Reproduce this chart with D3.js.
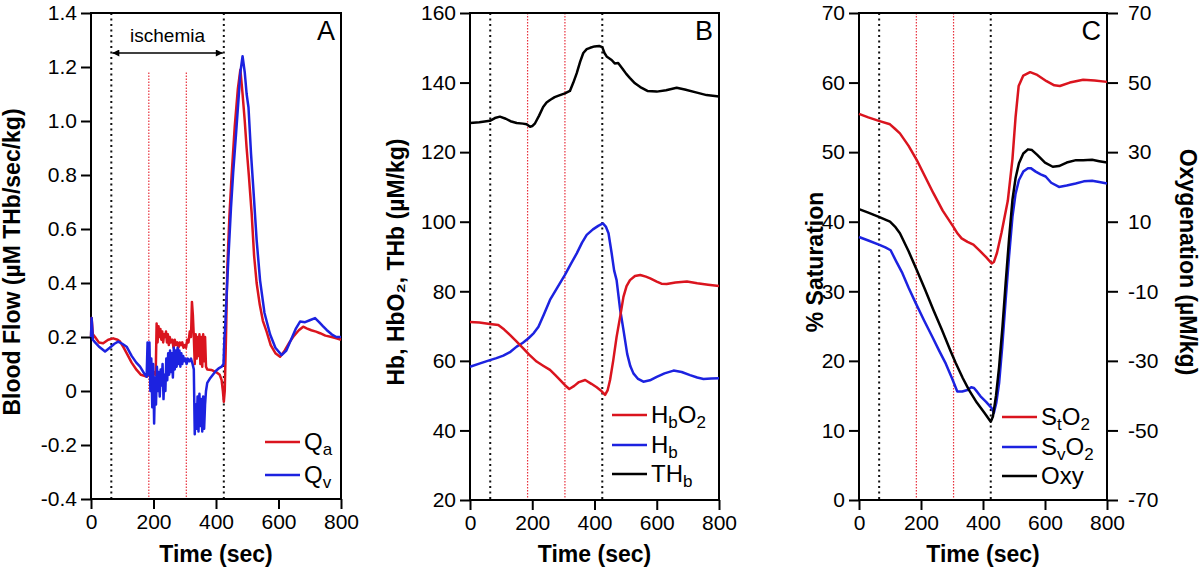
<!DOCTYPE html>
<meta charset="utf-8">
<head>
	<title>Ischemia - blood flow, hemoglobin, saturation</title>
</head>

<style>
body { margin: 0; background: #fff; }
svg { font-family: "Liberation Sans", Arial, sans-serif; background: #fff; }
.frame { fill: none; stroke: #000; stroke-width: 2; }
.axis path { display: none; }
.axis line { stroke: #000; stroke-width: 2; }
.axis text { font-size: 21px; fill: #000; font-family: "Liberation Sans", Arial, sans-serif; }
.title { font-size: 23px; font-weight: bold; }
.series { fill: none; stroke-width: 2.5; stroke-linejoin: round; }
.leg { font-size: 24px; }
</style>

<body>
<svg width="1200" height="571"></svg>

<script src="https://cdnjs.cloudflare.com/ajax/libs/d3/7.8.5/d3.min.js"></script>
<script>

var RED = "#da141e", BLUE = "#1c22e0", BLACK = "#000";

// time ticks and event markers (sec)
var timeTicks = [0, 200, 400, 600, 800];
var blackMarks = [65, 425];
var redMarks = [185, 305];

// panel A : blood flow
var flowTicks = [-0.4, -0.2, 0, 0.2, 0.4, 0.6, 0.8, 1.0, 1.2, 1.4];
var Qa = [[0,0.20],[2,0.27],[6,0.21],[13,0.20],[25,0.18],[39,0.177],[55,0.19],[71,0.195],[85,0.19],[93,0.183],[105,0.16],[114,0.14],[130,0.105],[146,0.078],[160,0.06],[178,0.053],[185,0.06],[192,0.08],[197,0.05],[202,0.07],[207,0.06],
	[210,0.25],[213,0.18],[216,0.24],[219,0.2],[222,0.23],[225,0.19],[228,0.22],[231,0.18],[234,0.21],[237,0.2],[240,0.22],[243,0.18],[246,0.21],[249,0.17],[252,0.2],[256,0.18],[260,0.19],[264,0.16],[268,0.19],[272,0.17],[276,0.18],[280,0.16],[284,0.18],[288,0.17],[292,0.18],[296,0.16],[300,0.17],[304,0.16],[308,0.19],[312,0.18],[316,0.22],[320,0.2],[323,0.33],[326,0.28],[329,0.2],[332,0.1],[335,0.21],[338,0.12],[341,0.2],[344,0.13],[347,0.21],[350,0.1],[353,0.2],[356,0.09],[359,0.21],[362,0.11],[365,0.2],[368,0.09],
	[372,0.08],[385,0.078],[400,0.07],[412,0.06],[418,0.04],[422,0.0],[425,-0.04],[428,0.0],[432,0.2],[436,0.45],[443,0.65],[450,0.8],[460,0.98],[470,1.12],[478,1.19],[485,1.1],[492,1.0],[498,0.9],[505,0.8],[514,0.66],[522,0.5],[530,0.4],[540,0.32],[550,0.26],[562,0.22],[575,0.17],[590,0.14],[605,0.127],[620,0.15],[635,0.18],[650,0.205],[665,0.225],[679,0.238],[690,0.232],[705,0.225],[720,0.22],[733,0.214],[750,0.205],[770,0.2],[785,0.195],[800,0.19]];
var Qv = [[0,0.20],[2,0.27],[6,0.19],[13,0.18],[25,0.165],[45,0.146],[60,0.16],[75,0.175],[87,0.183],[100,0.175],[114,0.164],[130,0.13],[145,0.105],[157,0.09],[170,0.065],[178,0.053],[181,0.18],[184,0.06],[187,0.18],[190,0.0],[193,0.12],[196,-0.06],[199,0.1],[202,-0.12],[205,0.05],[208,-0.05],[211,0.09],[214,0.0],[217,0.07],[220,-0.02],[223,0.08],[226,0.02],[229,0.1],[232,-0.03],[235,0.06],[238,0.0],[241,0.12],[244,0.04],[247,0.14],[250,0.06],[253,0.15],[256,0.07],[259,0.14],[262,0.05],[265,0.16],[268,0.08],[271,0.15],[274,0.09],[277,0.16],[280,0.1],[283,0.15],[286,0.09],[289,0.14],[292,0.1],[295,0.13],[298,0.11],[302,0.12],[306,0.1],[310,0.12],[315,0.11],[320,0.12],[325,0.1],[329,0.08],
	[332,-0.16],[335,-0.05],[338,-0.14],[341,-0.02],[344,-0.15],[347,-0.01],[350,-0.13],[353,-0.03],[356,-0.15],[359,-0.02],[362,-0.14],[365,-0.05],[368,0.0],[372,0.03],[380,0.045],[390,0.06],[400,0.075],[410,0.085],[418,0.09],[424,0.1],[427,0.2],[429,0.226],[435,0.38],[440,0.5],[448,0.68],[455,0.81],[464,0.95],[472,1.08],[478,1.18],[485,1.24],[492,1.18],[498,1.1],[504,1.05],[512,0.88],[520,0.74],[530,0.56],[541,0.41],[555,0.29],[573,0.21],[590,0.16],[610,0.133],[625,0.15],[640,0.19],[655,0.23],[669,0.257],[685,0.255],[700,0.262],[717,0.27],[730,0.255],[742,0.24],[754,0.226],[770,0.21],[785,0.2],[800,0.2]];

// panel B : hemoglobin (uM/kg)
var hbTicks = [20, 40, 60, 80, 100, 120, 140, 160];
var HbO2 = [[0,71.2],[30,71],[64,70.6],[91,70.3],[110,69],[129,67.4],[150,65.5],[171,63.6],[190,61.8],[214,59.8],[235,58.6],[257,57.4],[275,55.8],[289,54.5],[305,53],[319,51.9],[335,52.8],[350,53.9],[370,54.5],[390,53.4],[407,52.4],[420,51.5],[434,50.2],[442,51.5],[450,54.5],[460,60],[471,66.9],[483,73],[493,78.4],[503,81.5],[514,83.2],[530,84.4],[547,84.7],[565,84.2],[579,83.7],[600,82.8],[615,82.2],[632,82.1],[660,82.5],[697,82.8],[730,82.3],[765,81.9],[800,81.5]];
var Hb = [[0,58.3],[30,59.2],[64,60.2],[85,60.8],[107,61.5],[130,62.6],[150,64.1],[170,65.2],[188,66.5],[205,68],[220,69.8],[238,73.5],[257,77.5],[280,81],[305,84.7],[325,88],[343,90.9],[360,94],[375,96.2],[395,97.8],[412,98.8],[427,99.5],[437,98.5],[445,96.7],[455,91],[463,86],[471,83.2],[482,75],[493,68.9],[505,62],[515,58.5],[525,56.4],[540,54.8],[557,54.0],[578,54.4],[600,55.4],[625,56.4],[654,57.2],[680,56.8],[707,55.9],[730,55.2],[750,54.8],[775,54.9],[800,55.0]];
var THb = [[0,128.4],[30,128.6],[64,129.0],[80,129.8],[96,130.2],[115,129.6],[130,128.9],[150,128.4],[170,128.2],[182,128],[193,127.3],[200,127.5],[209,128.3],[222,130.5],[235,133],[246,134.3],[257,135],[272,135.8],[289,136.4],[305,136.9],[321,137.6],[332,140],[343,142.7],[354,146],[364,148.5],[375,149.6],[386,150],[400,150.4],[415,150.5],[425,150.2],[432,148.5],[440,147.4],[455,146.5],[465,145.5],[476,145.6],[490,144],[502,142.5],[514,141.3],[530,139.8],[547,138.7],[570,137.6],[600,137.4],[630,137.8],[664,138.5],[690,138],[729,137.1],[760,136.4],[800,136.0]];

// panel C : saturation (%) and oxygenation (uM/kg)
var satTicks = [0, 10, 20, 30, 40, 50, 60, 70];
var oxyTicks = [-70, -50, -30, -10, 10, 30, 50, 70];
var StO2 = [[0,55.5],[30,55],[64,54.5],[100,54.0],[115,53.4],[132,52.7],[160,50.9],[186,48.9],[213,46.5],[240,44.1],[270,41.6],[304,39.3],[318,38.3],[331,37.6],[350,37.1],[369,36.7],[390,35.8],[410,34.9],[428,34.0],[435,34.2],[445,35.5],[460,38.5],[480,43],[495,49],[505,55],[515,59.5],[530,61],[552,61.5],[575,61.1],[605,60.2],[630,59.6],[648,59.5],[680,60],[723,60.4],[760,60.3],[800,60.1]];
var SvO2 = [[0,37.8],[30,37.3],[64,36.7],[85,36.3],[102,35.9],[120,34.3],[140,32.6],[160,30.5],[183,28.3],[210,25.8],[236,23.5],[258,21.5],[280,19.6],[300,17.5],[317,15.6],[333,15.6],[350,15.8],[362,16.2],[371,16.1],[382,15.5],[392,14.9],[410,14.1],[428,13.2],[435,12.5],[443,14],[452,16.8],[462,22],[473,28.7],[484,35],[495,40.7],[505,44],[516,46],[530,47.2],[545,47.7],[554,47.7],[570,47.2],[586,46.8],[602,46.5],[620,45.6],[645,45.0],[670,45.2],[699,45.5],[725,45.8],[752,45.9],[775,45.7],[800,45.5]];
var Oxy = [[0,13.6],[30,12.6],[64,11.4],[100,10],[116,8.6],[132,6.7],[160,1.5],[186,-3.8],[213,-9.5],[240,-15.4],[267,-21],[294,-26.9],[312,-30.6],[335,-35],[355,-38.4],[380,-42],[405,-45],[425,-47.5],[432,-46],[442,-40],[452,-31.7],[463,-20],[473,-7.7],[484,5],[495,16.3],[505,22.5],[516,26.8],[530,29.6],[545,30.8],[558,30.6],[575,29.2],[600,27],[625,25.8],[645,26],[670,27],[700,27.7],[723,27.7],[752,27.8],[775,27.4],[800,27]];

var svg = d3.select("svg");

svg.append("defs").append("marker")
	.attr("id", "head")
	.attr("viewBox", "0 0 10 10")
	.attr("refX", 10).attr("refY", 5)
	.attr("markerWidth", 9).attr("markerHeight", 7)
	.attr("markerUnits", "userSpaceOnUse")
	.attr("orient", "auto-start-reverse")
	.append("path").attr("d", "M0,0 L10,5 L0,10 Z").attr("fill", "#000");

// one panel: frame, axes, marker lines
function panel(p) {
	var g = svg.append("g");
	var x = d3.scaleLinear().domain([0, 800]).range([p.left, p.right]);
	var y = d3.scaleLinear().domain(p.yDomain).range([p.bottom, p.top]);

	// marker lines
	blackMarks.forEach(function(t){
		g.append("line")
			.attr("x1", x(t)).attr("x2", x(t))
			.attr("y1", p.top).attr("y2", p.bottom)
			.attr("stroke", "#111").attr("stroke-width", 2)
			.attr("stroke-dasharray", "2,3.5");
	});
	redMarks.forEach(function(t){
		g.append("line")
			.attr("x1", x(t)).attr("x2", x(t))
			.attr("y1", p.redTop != null ? y(p.redTop) : p.top).attr("y2", p.bottom)
			.attr("stroke", "#e8303c").attr("stroke-width", 1.2)
			.attr("stroke-dasharray", "1.5,1.5");
	});

	g.append("g").attr("class", "axis")
		.attr("transform", "translate(0," + p.bottom + ")")
		.call(d3.axisBottom(x).tickValues(timeTicks).tickSize(10).tickPadding(5).tickSizeOuter(0));

	g.append("g").attr("class", "axis")
		.attr("transform", "translate(" + p.left + ",0)")
		.call(d3.axisLeft(y).tickValues(p.yTicks).tickSize(10).tickPadding(4).tickSizeOuter(0)
			.tickFormat(p.fmt || d3.format("d")));

	g.append("rect").attr("class", "frame")
		.attr("x", p.left).attr("y", p.top)
		.attr("width", p.right - p.left).attr("height", p.bottom - p.top);

	g.append("text").attr("class", "title")
		.attr("x", (p.left + p.right) / 2).attr("y", 562)
		.attr("text-anchor", "middle").text("Time (sec)");

	g.append("text").attr("class", "title")
		.attr("transform", "translate(" + p.titleX + ",262) rotate(-90)")
		.attr("text-anchor", "middle").text(p.title);

	g.append("text")
		.attr("x", p.right - 6).attr("y", 40)
		.attr("text-anchor", "end").attr("font-size", 27).text(p.letter);

	return {g: g, x: x, y: y};
}

function drawLine(pn, data, color, width, yScale) {
	var ys = yScale || pn.y;
	pn.g.append("path")
		.attr("class", "series")
		.attr("stroke", color)
		.attr("stroke-width", width)
		.attr("d", d3.line()
			.x(function(d){ return pn.x(d[0]); })
			.y(function(d){ return ys(d[1]); })(data));
}

// label parts: [text, isSub]
function legend(pn, x0, items) {
	items.forEach(function(it){
		pn.g.append("line")
			.attr("x1", x0).attr("x2", x0 + 35)
			.attr("y1", it.y).attr("y2", it.y)
			.attr("stroke", it.color).attr("stroke-width", 2.5);
		var t = pn.g.append("text").attr("class", "leg")
			.attr("x", x0 + 39).attr("y", it.y + 8);
		var shifted = false;
		it.parts.forEach(function(pt){
			var s = t.append("tspan").text(pt[0]);
			if (pt[1] && !shifted) { s.attr("font-size", 17).attr("dy", 5); shifted = true; }
			else if (!pt[1] && shifted) { s.attr("dy", -5); shifted = false; }
			else if (pt[1]) { s.attr("font-size", 17); }
		});
	});
}

// ---- A
var A = panel({left: 91, right: 341, top: 13, bottom: 499,
	yDomain: [-0.4, 1.4], yTicks: flowTicks, redTop: 1.18,
	fmt: function(d){ return d === 0 ? "0" : d.toFixed(1); },
	titleX: 20, title: "Blood Flow (µM THb/sec/kg)", letter: "A"});
drawLine(A, Qa, RED, 2.5);
drawLine(A, Qv, BLUE, 2.8);
A.g.append("line")
	.attr("x1", A.x(blackMarks[0]) + 1).attr("x2", A.x(blackMarks[1]) - 1)
	.attr("y1", 53).attr("y2", 53)
	.attr("stroke", "#000").attr("stroke-width", 1.5)
	.attr("marker-start", "url(#head)").attr("marker-end", "url(#head)");
A.g.append("text")
	.attr("x", (A.x(blackMarks[0]) + A.x(blackMarks[1])) / 2).attr("y", 42)
	.attr("text-anchor", "middle").attr("font-size", 19).text("ischemia");
legend(A, 265, [
	{y: 442, color: RED, parts: [["Q", false], ["a", true]]},
	{y: 475, color: BLUE, parts: [["Q", false], ["v", true]]}
]);

// ---- B
var B = panel({left: 470, right: 719, top: 13, bottom: 500,
	yDomain: [20, 160], yTicks: hbTicks,
	titleX: 404, title: "Hb, HbO\u2082, THb (µM/kg)", letter: "B"});
drawLine(B, THb, BLACK, 2.5);
drawLine(B, Hb, BLUE, 2.5);
drawLine(B, HbO2, RED, 2.5);
legend(B, 612, [
	{y: 415, color: RED, parts: [["H", false], ["b", true], ["O", false], ["2", true]]},
	{y: 445, color: BLUE, parts: [["H", false], ["b", true]]},
	{y: 474, color: BLACK, parts: [["TH", false], ["b", true]]}
]);

// ---- C
var C = panel({left: 859, right: 1107, top: 13, bottom: 500,
	yDomain: [0, 70], yTicks: satTicks,
	titleX: 823, title: "% Saturation", letter: "C"});
var yOxy = d3.scaleLinear().domain([-70, 70]).range([500, 13]);
C.g.append("g").attr("class", "axis")
	.attr("transform", "translate(1107,0)")
	.call(d3.axisRight(yOxy).tickValues(oxyTicks).tickSize(11).tickPadding(10).tickSizeOuter(0)
		.tickFormat(function(d){ return String(d); }));
C.g.append("text").attr("class", "title")
	.attr("transform", "translate(1180,262) rotate(90)")
	.attr("text-anchor", "middle").text("Oxygenation (µM/kg)");
drawLine(C, StO2, RED, 2.5);
drawLine(C, SvO2, BLUE, 2.5);
drawLine(C, Oxy, BLACK, 2.5, yOxy);
legend(C, 1002, [
	{y: 417, color: RED, parts: [["S", false], ["t", true], ["O", false], ["2", true]]},
	{y: 447, color: BLUE, parts: [["S", false], ["v", true], ["O", false], ["2", true]]},
	{y: 476, color: BLACK, parts: [["Oxy", false]]}
]);

</script>
</body>
</html>
